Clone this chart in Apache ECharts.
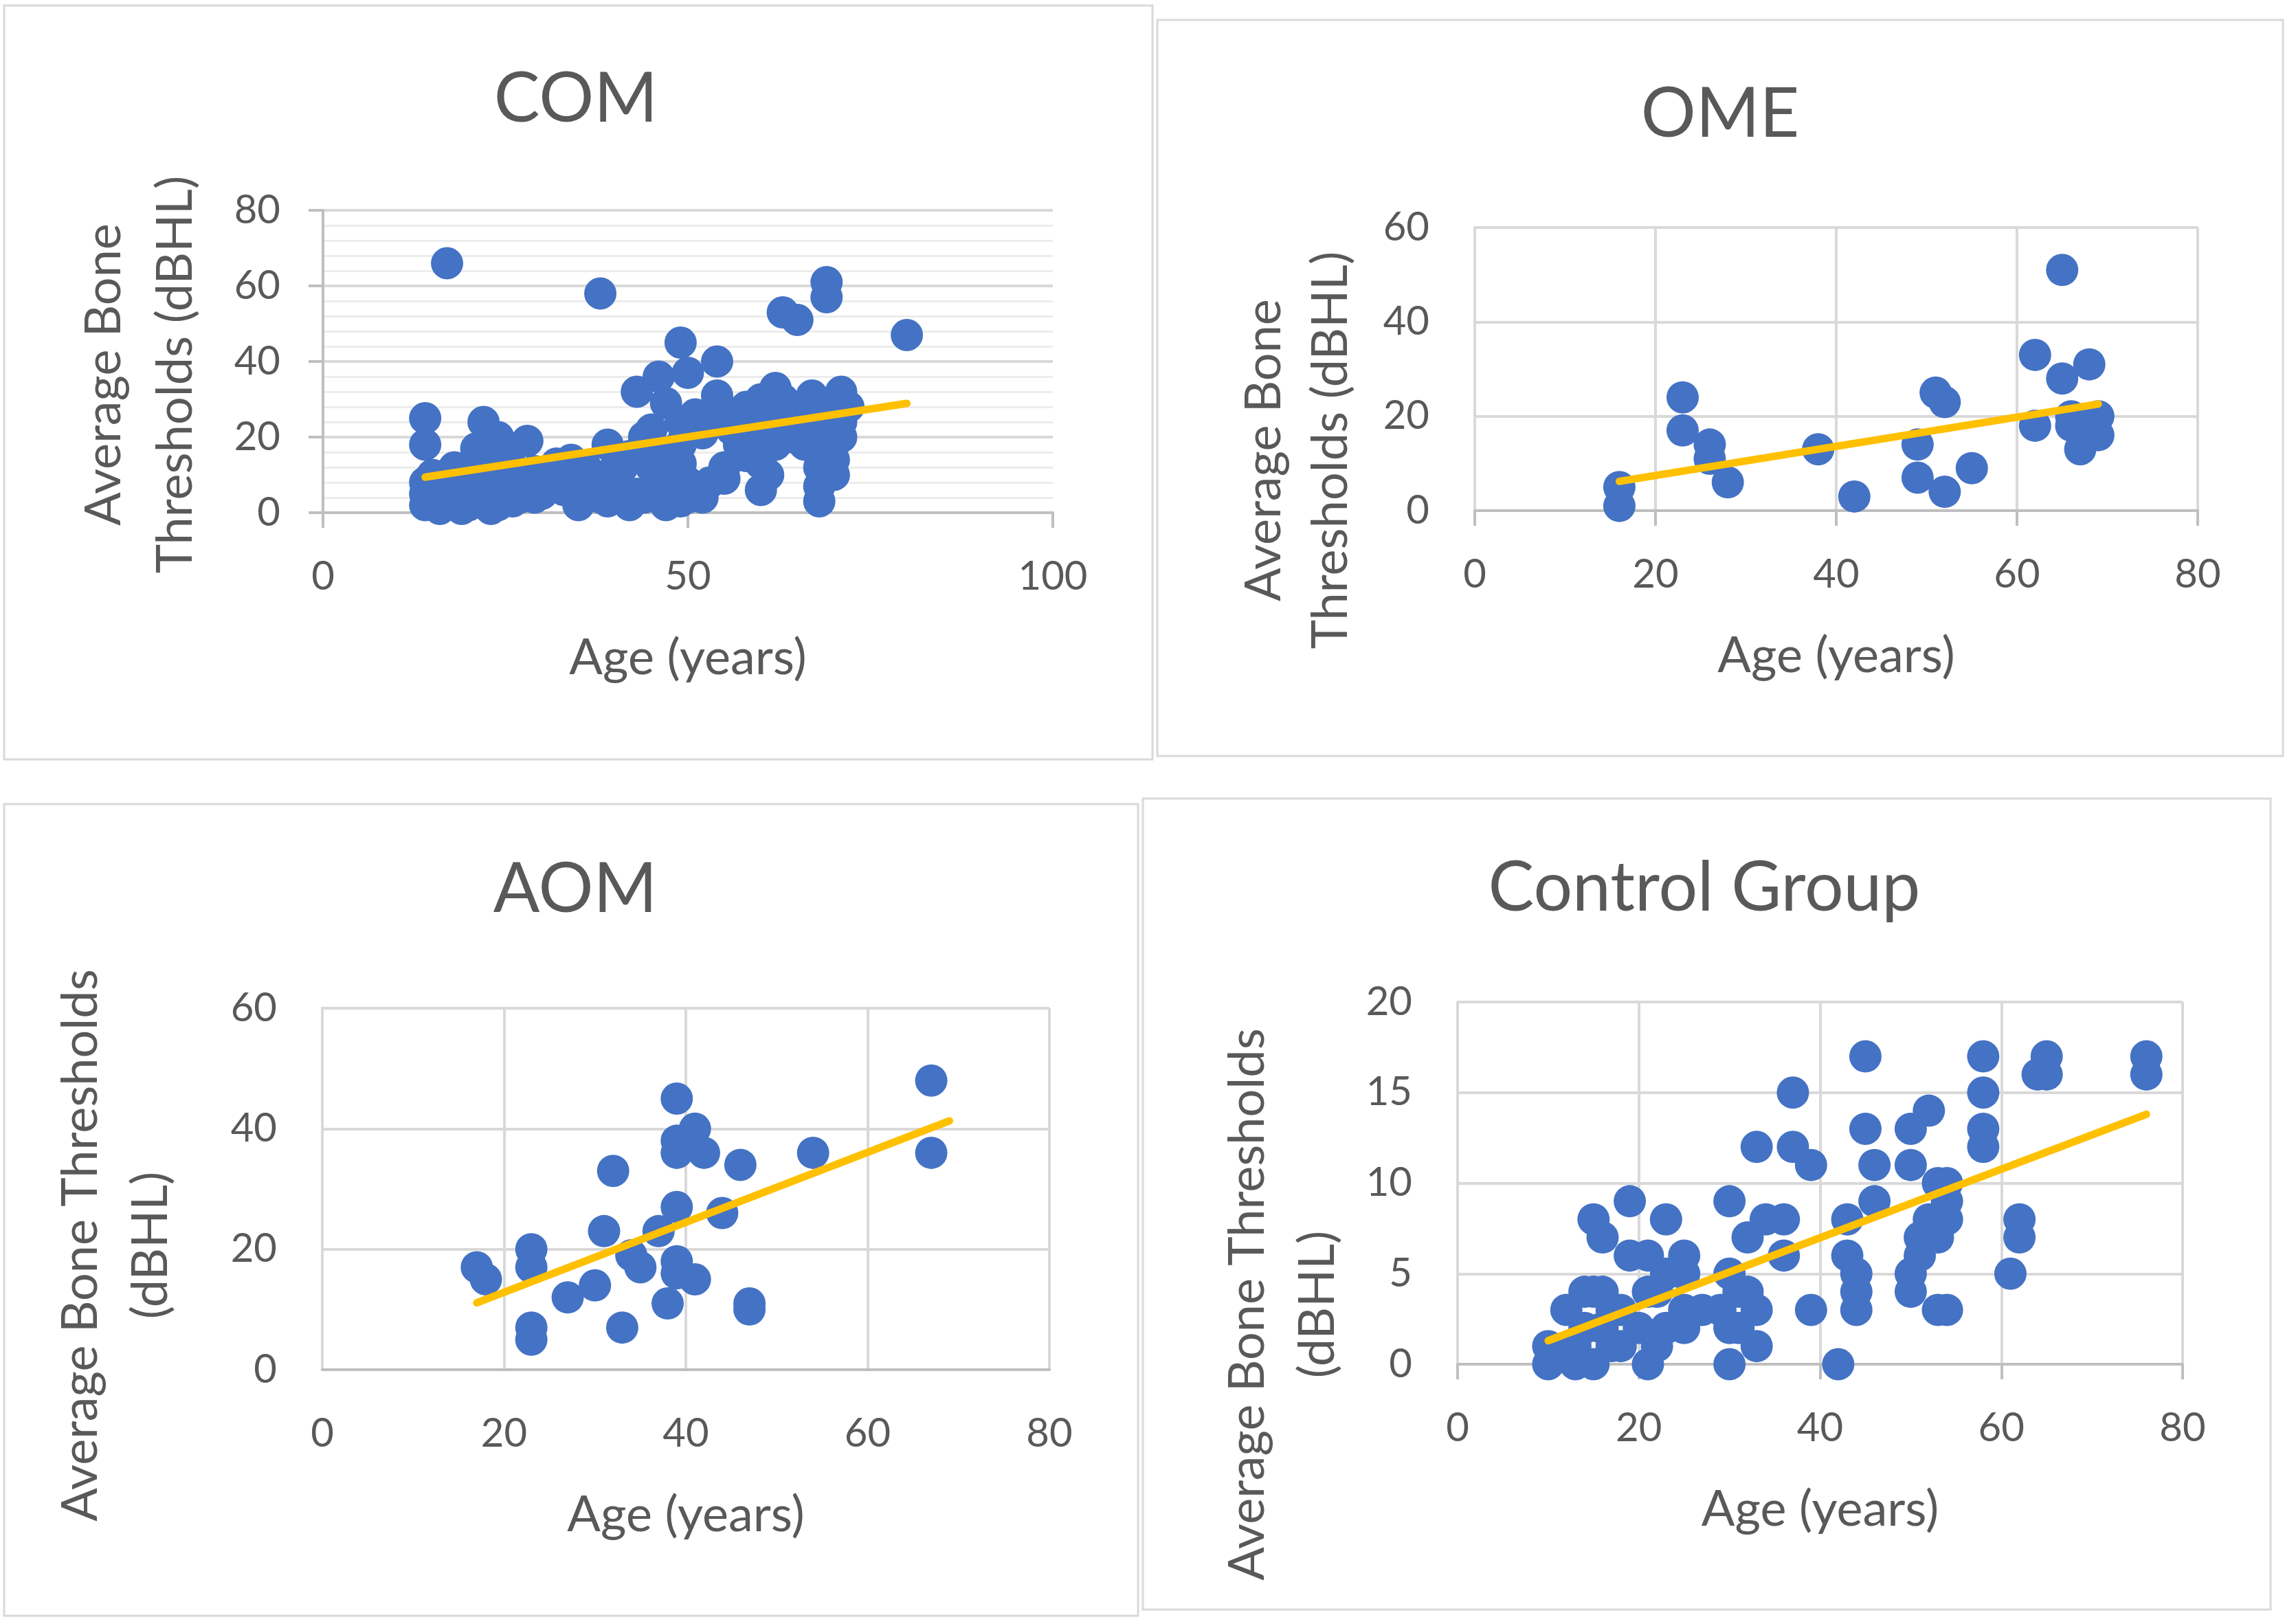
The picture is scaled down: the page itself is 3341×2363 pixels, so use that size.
<!DOCTYPE html>
<html><head><meta charset="utf-8">
<script src="https://cdn.jsdelivr.net/npm/echarts@6.0.0/dist/echarts.min.js"></script>
<style>html,body{margin:0;padding:0;background:#fff}#c{width:3341px;height:2363px}</style>
</head><body><div id="c"></div>
<script>
// ---------- DATA ----------
const panelTitles = ['COM', 'OME', 'AOM', 'Control Group'];
const xAxisTitle = 'Age (years)';

// COM
const comAge = [14,14,14,14,14,15,15,16,16,17,17,18,18,19,19,20,20,21,21,21,22,22,22,23,23,24,24,24,25,25,26,26,26,27,27,28,28,29,29,30,30,31,31,32,33,33,34,34,35,35,36,36,37,38,38,39,39,39,40,40,41,42,43,43,44,44,45,45,46,46,46,47,47,48,48,49,49,49,49,50,50,50,51,52,52,53,53,54,54,55,55,55,56,57,57,58,58,59,60,60,60,60,61,62,62,62,63,63,64,64,65,66,66,66,67,67,68,68,68,68,69,69,69,69,70,70,70,71,71,72,80,41,42,45,47,48,49,44,56,59,61,63,65,67,70,71];
const comThr = [25,18,8,5,2,6,10,1,7,66,4,12,3,1,7,10,2,17,4,7,24,14,10,1,9,20,5,2,16,4,8,12,3,4,10,19,6,11,4,9,5,7,11,13,10,6,14,9,2,8,12,5,8,58,4,18,10,3,7,11,4,2,32,5,20,15,22,12,36,8,4,2,29,12,5,24,45,18,13,37,4,8,26,4,21,8,24,40,31,12,9,27,26,18,20,28,15,22,26,13,6,30,10,33,18,20,53,30,26,20,51,18,21,28,31,22,7,3,12,18,61,57,15,28,20,26,14,32,24,28,47,12,15,16,15,8,3,4,22,16,24,22,24,26,10,20];
const comTrendAge = [14, 80];
const comTrendThr = [9.4, 28.9];

// OME
const omeAge = [16,16,23,23,26,26,28,38,42,49,49,51,52,52,55,62,62,65,65,68,66,66,67,69,69,68];
const omeThr = [5,1,24,17,14,11,6,13,3,14,7,25,23,4,9,33,18,51,28,31,20,18,13,20,16,18];
const omeTrendAge = [16, 69];
const omeTrendThr = [6.2, 22.6];

// AOM
const aomAge = [17,18,23,23,23,23,27,30,31,32,33,34,35,37,38,39,39,39,39,39,39,41,42,41,44,46,47,47,54,67,67];
const aomThr = [17,15,20,17,7,5,12,14,23,33,7,19,17,23,11,45,38,36,27,18,16,40,36,15,26,34,11,10,36,48,36];
const aomTrendAge = [17, 69];
const aomTrendThr = [11.1, 41.3];

// Control Group
const ctlAge = [10,10,12,13,15,15,16,15,16,18,18,19,19,20,21,21,22,23,23,25,25,21,25,25,27,29,30,30,30,30,32,33,33,32,34,36,36,33,37,37,39,39,42,43,43,45,45,46,46,44,44,44,50,52,50,50,50,51,51,52,53,53,54,54,54,53,54,58,58,58,58,62,62,61,65,64,65,76,76,13,14,14,16,17,17,31,31,23,22];
const ctlThr = [1,0,3,0,0,8,7,4,4,3,1,9,6,2,6,0,1,8,2,6,5,4,2,3,3,3,9,5,0,2,7,3,1,4,8,8,6,12,15,12,11,3,0,8,6,17,13,11,9,5,4,3,13,14,11,5,4,7,6,8,7,10,10,9,8,3,3,17,15,13,12,8,7,5,17,16,16,17,16,1,2,4,2,3,1,2,4,5,4];
const ctlTrendAge = [10, 76];
const ctlTrendThr = [1.3, 13.8];

// tick settings per panel
const xMax = [100, 80, 80, 80];
const xStep = [50, 20, 20, 20];
const yMax = [80, 60, 60, 20];
const yStep = [20, 20, 20, 5];

// ---------- CHART ----------
const pair = (a, b) => a.map((v, i) => [v, b[i]]);
const scatterData = [pair(comAge, comThr), pair(omeAge, omeThr), pair(aomAge, aomThr), pair(ctlAge, ctlThr)];
const trendData = [pair(comTrendAge, comTrendThr), pair(omeTrendAge, omeTrendThr), pair(aomTrendAge, aomTrendThr), pair(ctlTrendAge, ctlTrendThr)];

const FONT = 'Lato';
const TXT = '#595959';
const GRIDC = '#d9d9d9';

const grids = [
  {left: 470, top: 306, width: 1062, height: 440},
  {left: 2146, top: 331, width: 1052, height: 412},
  {left: 469, top: 1467, width: 1058, height: 526},
  {left: 2121, top: 1458, width: 1055, height: 527}
];

const xAxes = grids.map((g, i) => ({
  type: 'value', gridIndex: i, min: 0, max: xMax[i], interval: xStep[i],
  name: xAxisTitle, nameLocation: 'middle', nameGap: 176,
  nameTextStyle: {fontFamily: FONT, fontSize: 72, color: TXT},
  axisLine: {show: true, onZero: false, lineStyle: {color: '#bfbfbf', width: 4}},
  axisTick: {show: i !== 2, length: 22, lineStyle: {color: '#bfbfbf', width: 4}},
  axisLabel: {fontFamily: FONT, fontSize: 58, color: TXT, margin: 64},
  splitLine: {show: i !== 0, lineStyle: {color: GRIDC, width: 4}}
}));

const yAxes = grids.map((g, i) => ({
  type: 'value', gridIndex: i, min: 0, max: yMax[i], interval: yStep[i],
  axisLine: {show: true, lineStyle: {color: i === 0 ? '#bfbfbf' : GRIDC, width: 4}},
  axisTick: {show: i === 0, length: 21, lineStyle: {color: '#bfbfbf', width: 4}},
  axisLabel: {fontFamily: FONT, fontSize: 58, color: TXT, margin: i === 0 ? 62 : 66},
  splitLine: {show: true, lineStyle: {color: GRIDC, width: 4}},
  minorTick: {show: false, splitNumber: 5},
  minorSplitLine: {show: i === 0, lineStyle: {color: '#ececec', width: 3}}
}));

const series = [];
for (let i = 0; i < 4; i++) {
  series.push({
    type: 'scatter', xAxisIndex: i, yAxisIndex: i, data: scatterData[i],
    symbolSize: 47, itemStyle: {color: '#4472C4', opacity: 1}, z: 2
  });
  series.push({
    type: 'line', xAxisIndex: i, yAxisIndex: i, data: trendData[i],
    symbol: 'none', lineStyle: {color: '#FFC000', width: 11, cap: 'round'}, z: 3
  });
}

const boxes = [
  [6, 8, 1671, 1097], [1684, 29, 1638, 1071], [6, 1170, 1650, 1181], [1663, 1162, 1641, 1180]
];
const titlePos = [[838, 145], [2503, 167], [837, 1295], [2480, 1293]];
const yTitleLines = [
  ['Average Bone', 'Thresholds (dBHL)'],
  ['Average Bone', 'Thresholds (dBHL)'],
  ['Average Bone Thresholds', '(dBHL)'],
  ['Average Bone Thresholds', '(dBHL)']
];
const yTitlePos = [
  [[152, 545], [256, 545]],
  [[1840, 655], [1937, 655]],
  [[118, 1812], [220, 1812]],
  [[1816, 1898], [1918, 1898]]
];

const graphic = [];
boxes.forEach(b => graphic.push({
  type: 'rect', shape: {x: b[0], y: b[1], width: b[2], height: b[3]},
  style: {fill: null, stroke: '#d9d9d9', lineWidth: 3}, z: -1, silent: true
}));
panelTitles.forEach((t, i) => graphic.push({
  type: 'text', x: titlePos[i][0], y: titlePos[i][1],
  style: {text: t, fontFamily: FONT, fontSize: 100, fill: TXT, align: 'center', verticalAlign: 'middle'}
}));
yTitleLines.forEach((lines, i) => lines.forEach((ln, j) => graphic.push({
  type: 'text', x: yTitlePos[i][j][0], y: yTitlePos[i][j][1], rotation: Math.PI / 2,
  style: {text: ln, fontFamily: FONT, fontSize: 72, fill: TXT, align: 'center', verticalAlign: 'middle'}
})));

const chart = echarts.init(document.getElementById('c'), null, {renderer: 'canvas', width: 3341, height: 2363});
chart.setOption({
  backgroundColor: '#ffffff',
  animation: false,
  grid: grids,
  xAxis: xAxes,
  yAxis: yAxes,
  series: series,
  graphic: graphic
});
</script></body></html>
